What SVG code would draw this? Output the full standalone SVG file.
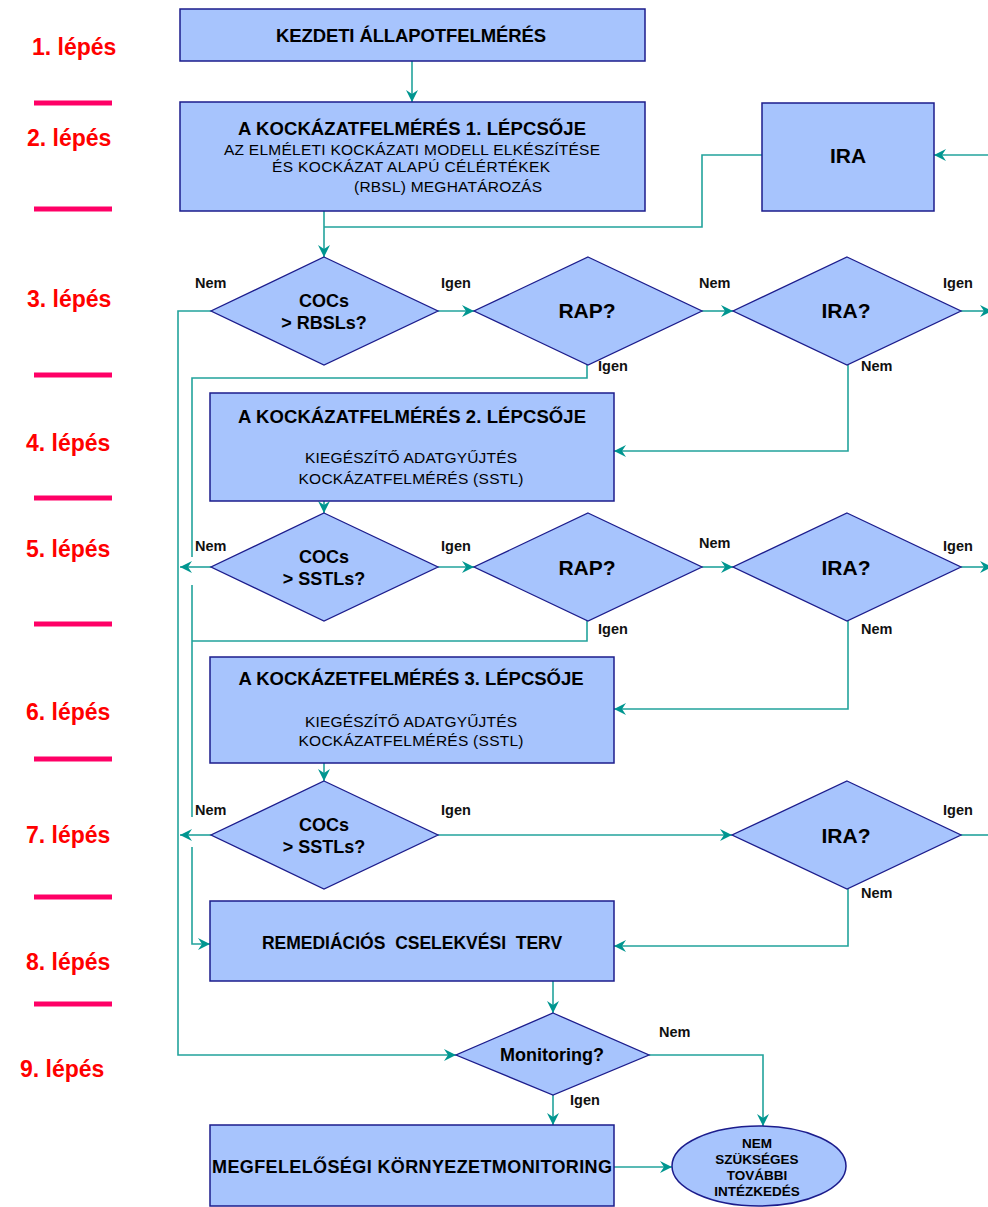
<svg xmlns="http://www.w3.org/2000/svg" width="988" height="1207" viewBox="0 0 988 1207">
<style>
.box{fill:#A7C4FD;stroke:#1C1C8C;stroke-width:1.5}
.dia{fill:#A7C4FD;stroke:#1C1C8C;stroke-width:1.3}
.t{font-family:"Liberation Sans",Arial,sans-serif;fill:#000;text-anchor:middle}
.b{font-weight:bold}
.lbl{font-family:"Liberation Sans",Arial,sans-serif;font-weight:bold;font-size:14.5px;fill:#111}
.step{font-family:"Liberation Sans",Arial,sans-serif;font-weight:bold;font-size:23px;fill:#FF0000}
.sep{stroke:#FF0066;stroke-width:5}
.c{fill:none;stroke:#22A39C;stroke-width:1.6}
.a{marker-end:url(#ah)}
</style>
<defs>
<marker id="ah" viewBox="0 0 12 12" refX="12" refY="6" markerWidth="12" markerHeight="12" markerUnits="userSpaceOnUse" orient="auto">
<path d="M0,0 L12,6 L0,12 L4,6 z" fill="#009690"/>
</marker>
</defs>
<rect width="988" height="1207" fill="#fff"/>

<g id="steps">
<text class="step" x="32" y="55">1. lépés</text>
<line class="sep" x1="34" y1="103" x2="112" y2="103"/>
<text class="step" x="27" y="146">2. lépés</text>
<line class="sep" x1="34" y1="209" x2="112" y2="209"/>
<text class="step" x="27" y="307">3. lépés</text>
<line class="sep" x1="34" y1="375" x2="112" y2="375"/>
<text class="step" x="26" y="451">4. lépés</text>
<line class="sep" x1="34" y1="498" x2="112" y2="498"/>
<text class="step" x="26" y="557">5. lépés</text>
<line class="sep" x1="34" y1="624" x2="112" y2="624"/>
<text class="step" x="26" y="720">6. lépés</text>
<line class="sep" x1="34" y1="759" x2="112" y2="759"/>
<text class="step" x="26" y="843">7. lépés</text>
<line class="sep" x1="34" y1="897" x2="112" y2="897"/>
<text class="step" x="26" y="970">8. lépés</text>
<line class="sep" x1="34" y1="1004" x2="112" y2="1004"/>
<text class="step" x="20" y="1077">9. lépés</text>
</g>

<g id="connectors">
<path class="c a" d="M412,61 V102"/>
<path class="c a" d="M324,211 V257"/>
<path class="c" d="M762,155 H702 V227 H324"/>
<path class="c a" d="M990,155 H934"/>
<path class="c a" d="M438,311 H474"/>
<path class="c a" d="M702,311 H733"/>
<path class="c a" d="M961,311 H992"/>
<path class="c a" d="M211,311 H178 V1055 H456"/>
<path class="c a" d="M587,365 V378 H192 V557 M192,585 V817 M192,847 V944 H210"/>
<path class="c" d="M587,621 V641 H192"/>
<path class="c a" d="M848,365 V451 H614"/>
<path class="c a" d="M324,501 V513"/>
<path class="c a" d="M438,567 H474"/>
<path class="c a" d="M211,567 H180"/>
<path class="c a" d="M702,567 H733"/>
<path class="c a" d="M961,567 H992"/>
<path class="c a" d="M848,621 V709 H614"/>
<path class="c a" d="M324,763 V781"/>
<path class="c a" d="M211,835 H180"/>
<path class="c a" d="M438,835 H732"/>
<path class="c" d="M961,835 H988"/>
<path class="c a" d="M848,889 V946 H614"/>
<path class="c a" d="M553,981 V1013"/>
<path class="c a" d="M649,1055 H763 V1126"/>
<path class="c a" d="M553,1095 V1125"/>
<path class="c a" d="M614,1167 H672"/>
</g>

<g id="labels">
<text class="lbl" x="195" y="288">Nem</text>
<text class="lbl" x="441" y="288">Igen</text>
<text class="lbl" x="699" y="288">Nem</text>
<text class="lbl" x="943" y="288">Igen</text>
<text class="lbl" x="598" y="371">Igen</text>
<text class="lbl" x="861" y="371">Nem</text>
<text class="lbl" x="195" y="551">Nem</text>
<text class="lbl" x="441" y="551">Igen</text>
<text class="lbl" x="699" y="548">Nem</text>
<text class="lbl" x="943" y="551">Igen</text>
<text class="lbl" x="598" y="634">Igen</text>
<text class="lbl" x="861" y="634">Nem</text>
<text class="lbl" x="195" y="815">Nem</text>
<text class="lbl" x="441" y="815">Igen</text>
<text class="lbl" x="943" y="815">Igen</text>
<text class="lbl" x="861" y="898">Nem</text>
<text class="lbl" x="659" y="1037">Nem</text>
<text class="lbl" x="570" y="1105">Igen</text>
</g>

<g id="n-kezdeti">
<rect class="box" x="180" y="9" width="465" height="52"/>
<text class="t b" x="411" y="42" font-size="18.5" textLength="270">KEZDETI ÁLLAPOTFELMÉRÉS</text>
</g>

<g id="n-lepcso1">
<rect class="box" x="180" y="102" width="465" height="109"/>
<text class="t b" x="412" y="135" font-size="18.5" textLength="348">A KOCKÁZATFELMÉRÉS 1. LÉPCSŐJE</text>
<text class="t" x="412" y="155" font-size="15.5" textLength="376">AZ ELMÉLETI KOCKÁZATI MODELL ELKÉSZÍTÉSE</text>
<text class="t" x="411" y="172" font-size="15.5" textLength="278">ÉS KOCKÁZAT ALAPÚ CÉLÉRTÉKEK</text>
<text class="t" x="448" y="192" font-size="15.5" textLength="188">(RBSL) MEGHATÁROZÁS</text>
</g>

<g id="n-ira">
<rect class="box" x="762" y="103" width="172" height="108"/>
<text class="t b" x="848" y="163" font-size="21">IRA</text>
</g>

<g id="n-d1">
<polygon class="dia" points="324,257 438,311 324,365 211,311"/>
<text class="t b" x="324" y="307" font-size="18">COCs</text>
<text class="t b" x="324" y="329" font-size="18">&gt; RBSLs?</text>
</g>

<g id="n-rap1">
<polygon class="dia" points="588,257 702,311 588,365 474,311"/>
<text class="t b" x="587" y="318" font-size="21">RAP?</text>
</g>

<g id="n-ira1">
<polygon class="dia" points="847,257 961,311 847,365 733,311"/>
<text class="t b" x="846" y="318" font-size="21">IRA?</text>
</g>

<g id="n-lepcso2">
<rect class="box" x="210" y="393" width="404" height="108"/>
<text class="t b" x="412" y="423" font-size="18.5" textLength="348">A KOCKÁZATFELMÉRÉS 2. LÉPCSŐJE</text>
<text class="t" x="411" y="463" font-size="15.5" textLength="212">KIEGÉSZÍTŐ ADATGYŰJTÉS</text>
<text class="t" x="411" y="484" font-size="15.5" textLength="225">KOCKÁZATFELMÉRÉS (SSTL)</text>
</g>

<g id="n-d2">
<polygon class="dia" points="324,513 438,567 324,621 211,567"/>
<text class="t b" x="324" y="563" font-size="18">COCs</text>
<text class="t b" x="324" y="585" font-size="18">&gt; SSTLs?</text>
</g>

<g id="n-rap2">
<polygon class="dia" points="588,513 702,567 588,621 474,567"/>
<text class="t b" x="587" y="575" font-size="21">RAP?</text>
</g>

<g id="n-ira2">
<polygon class="dia" points="847,513 961,567 847,621 733,567"/>
<text class="t b" x="846" y="575" font-size="21">IRA?</text>
</g>

<g id="n-lepcso3">
<rect class="box" x="210" y="657" width="404" height="106"/>
<text class="t b" x="411" y="685" font-size="18.5" textLength="345">A KOCKÁZETFELMÉRÉS 3. LÉPCSŐJE</text>
<text class="t" x="411" y="727" font-size="15.5" textLength="212">KIEGÉSZÍTŐ ADATGYŰJTÉS</text>
<text class="t" x="411" y="746" font-size="15.5" textLength="225">KOCKÁZATFELMÉRÉS (SSTL)</text>
</g>

<g id="n-d3">
<polygon class="dia" points="324,781 438,835 324,889 211,835"/>
<text class="t b" x="324" y="831" font-size="18">COCs</text>
<text class="t b" x="324" y="853" font-size="18">&gt; SSTLs?</text>
</g>

<g id="n-ira3">
<polygon class="dia" points="847,781 961,835 847,889 732,835"/>
<text class="t b" x="846" y="843" font-size="21">IRA?</text>
</g>

<g id="n-remediacio">
<rect class="box" x="210" y="901" width="404" height="80"/>
<text class="t b" x="412" y="949" font-size="17.5" style="white-space:pre">REMEDIÁCIÓS  CSELEKVÉSI  TERV</text>
</g>

<g id="n-monitoring">
<polygon class="dia" points="553,1013 649,1055 553,1095 456,1055"/>
<text class="t b" x="552" y="1061" font-size="18">Monitoring?</text>
</g>

<g id="n-megfeleloseg">
<rect class="box" x="210" y="1125" width="404" height="81"/>
<text class="t b" x="412" y="1173" font-size="18" textLength="400">MEGFELELŐSÉGI KÖRNYEZETMONITORING</text>
</g>

<g id="n-nem-szukseges">
<ellipse class="box" cx="759" cy="1166" rx="87" ry="40"/>
<text class="t b" x="757" y="1148" font-size="13.5">NEM</text>
<text class="t b" x="757" y="1164" font-size="13.5">SZÜKSÉGES</text>
<text class="t b" x="757" y="1180" font-size="13.5">TOVÁBBI</text>
<text class="t b" x="757" y="1196" font-size="13.5">INTÉZKEDÉS</text>
</g>
</svg>
